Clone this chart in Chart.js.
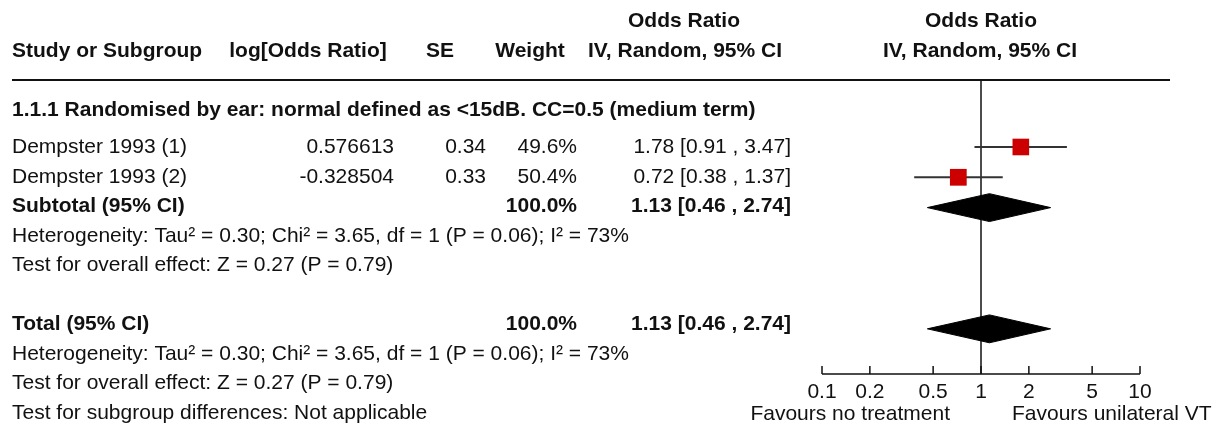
<!DOCTYPE html>
<html>
<head>
<meta charset="utf-8">
<script src="https://cdn.jsdelivr.net/npm/chart.js@4.4.1/dist/chart.umd.min.js"></script>
<style>
  body { margin: 0; background: #fff; }
</style>
</head>
<body>
<canvas id="forest" width="1223" height="430"></canvas>
<script>
// Study level data
const studyNames = ['Dempster 1993 (1)', 'Dempster 1993 (2)'];
const logOddsRatios = ['0.576613', '-0.328504'];
const seValues = ['0.34', '0.33'];
const weights = [49.6, 50.4];
const oddsRatios = [1.78, 0.72];
const ciLow = [0.91, 0.38];
const ciHigh = [3.47, 1.37];
const studyRows = [1, 2];

// Pooled estimate (subtotal and total are the same here)
const pooledLabels = ['Subtotal (95% CI)', 'Total (95% CI)'];
const pooledWeight = 100.0;
const pooledOR = 1.13;
const pooledLow = 0.46;
const pooledHigh = 2.74;
const pooledRows = [3, 7];

const subgroupTitle = '1.1.1 Randomised by ear: normal defined as <15dB. CC=0.5 (medium term)';
const heterogeneityText = 'Heterogeneity: Tau\u00b2 = 0.30; Chi\u00b2 = 3.65, df = 1 (P = 0.06); I\u00b2 = 73%';
const overallText = 'Test for overall effect: Z = 0.27 (P = 0.79)';
const subgroupDiffText = 'Test for subgroup differences: Not applicable';

// Axis
const axisTicks = [0.1, 0.2, 0.5, 1, 2, 5, 10];
const axisLabels = ['0.1', '0.2', '0.5', '1', '2', '5', '10'];
const favoursLeft = 'Favours no treatment';
const favoursRight = 'Favours unilateral VT';

const FONT = '"Liberation Sans", Arial, sans-serif';
const DIAMOND_H = 0.46; // half height of the diamonds, in rows

function fmtCI(or, lo, hi) {
    return or.toFixed(2) + ' [' + lo.toFixed(2) + ' , ' + hi.toFixed(2) + ']';
}

// datasets: squares first so they sit on top of the CI lines
const datasets = [];
datasets.push({
    type: 'scatter',
    data: oddsRatios.map((v, i) => ({ x: v, y: studyRows[i] })),
    pointStyle: 'rect',
    pointRadius: weights.map(w => 11.8 * Math.sqrt(w / 50)),
    pointBackgroundColor: '#cc0000',
    pointBorderColor: '#cc0000',
    pointBorderWidth: 0
});
studyNames.forEach((name, i) => {
    datasets.push({
        type: 'line',
        showLine: true,
        data: [{ x: ciLow[i], y: studyRows[i] }, { x: ciHigh[i], y: studyRows[i] }],
        borderColor: '#333',
        borderWidth: 2,
        pointRadius: 0
    });
});
pooledRows.forEach(r => {
    datasets.push({
        type: 'line',
        showLine: true,
        data: [
            { x: pooledLow, y: r },
            { x: pooledOR, y: r - DIAMOND_H },
            { x: pooledHigh, y: r },
            { x: pooledOR, y: r + DIAMOND_H },
            { x: pooledLow, y: r }
        ],
        borderColor: '#000',
        borderWidth: 1,
        backgroundColor: '#000',
        fill: 'shape',
        tension: 0,
        pointRadius: 0
    });
});

// Text table, reference line and axis
const forestPlugin = {
    id: 'forestPlugin',
    beforeDatasetsDraw(chart) {
        const ctx = chart.ctx;
        const area = chart.chartArea;
        const x1 = chart.scales.x.getPixelForValue(1);
        ctx.save();
        ctx.strokeStyle = '#111';
        ctx.lineWidth = 1.5;
        ctx.beginPath();
        ctx.moveTo(x1, area.top);
        ctx.lineTo(x1, area.bottom);
        ctx.stroke();
        ctx.restore();
    },
    afterDraw(chart) {
        const ctx = chart.ctx;
        const area = chart.chartArea;
        const xs = chart.scales.x;
        ctx.save();
        ctx.fillStyle = '#111';
        ctx.textBaseline = 'middle';

        function txt(s, x, y, align, bold) {
            ctx.font = (bold ? 'bold ' : '') + '21px ' + FONT;
            ctx.textAlign = align;
            ctx.fillText(s, x, y + 1.5);
        }

        // headers
        txt('Odds Ratio', 684, 20, 'center', true);
        txt('Odds Ratio', 981, 20, 'center', true);
        txt('Study or Subgroup', 12, 50, 'left', true);
        txt('log[Odds Ratio]', 308, 50, 'center', true);
        txt('SE', 440, 50, 'center', true);
        txt('Weight', 530, 50, 'center', true);
        txt('IV, Random, 95% CI', 685, 50, 'center', true);
        txt('IV, Random, 95% CI', 980, 50, 'center', true);

        // header rule
        ctx.strokeStyle = '#111';
        ctx.lineWidth = 2;
        ctx.beginPath();
        ctx.moveTo(12, area.top);
        ctx.lineTo(1170, area.top);
        ctx.stroke();

        const rowY = k => 146 + k * 29.5;
        txt(subgroupTitle, 12, 109, 'left', true);
        studyNames.forEach((name, i) => {
            const y = rowY(i);
            txt(name, 12, y, 'left', false);
            txt(logOddsRatios[i], 394, y, 'right', false);
            txt(seValues[i], 486, y, 'right', false);
            txt(weights[i].toFixed(1) + '%', 577, y, 'right', false);
            txt(fmtCI(oddsRatios[i], ciLow[i], ciHigh[i]), 791, y, 'right', false);
        });
        [2, 6].forEach((k, j) => {
            const y = rowY(k);
            txt(pooledLabels[j], 12, y, 'left', true);
            txt(pooledWeight.toFixed(1) + '%', 577, y, 'right', true);
            txt(fmtCI(pooledOR, pooledLow, pooledHigh), 791, y, 'right', true);
            txt(heterogeneityText, 12, rowY(k + 1), 'left', false);
            txt(overallText, 12, rowY(k + 2), 'left', false);
        });
        txt(subgroupDiffText, 12, rowY(9), 'left', false);

        // axis
        const ay = area.bottom;
        ctx.lineWidth = 1.5;
        ctx.beginPath();
        ctx.moveTo(xs.getPixelForValue(axisTicks[0]), ay);
        ctx.lineTo(xs.getPixelForValue(axisTicks[axisTicks.length - 1]), ay);
        axisTicks.forEach(t => {
            const px = xs.getPixelForValue(t);
            ctx.moveTo(px, ay - 8);
            ctx.lineTo(px, ay);
        });
        ctx.stroke();
        axisTicks.forEach((t, i) => {
            txt(axisLabels[i], xs.getPixelForValue(t), ay + 17, 'center', false);
        });
        const x1 = xs.getPixelForValue(1);
        txt(favoursLeft, x1 - 31, ay + 39, 'right', false);
        txt(favoursRight, x1 + 31, ay + 39, 'left', false);
        ctx.restore();
    }
};

new Chart(document.getElementById('forest'), {
    type: 'scatter',
    data: { datasets: datasets },
    options: {
        responsive: false,
        animation: false,
        layout: { padding: { left: 822, right: 83, top: 80, bottom: 56 } },
        scales: {
            x: { type: 'logarithmic', min: 0.1, max: 10, display: false },
            y: { type: 'linear', min: -1.21, max: 8.49, reverse: true, display: false }
        },
        plugins: {
            legend: { display: false },
            tooltip: { enabled: false }
        }
    },
    plugins: [forestPlugin]
});
</script>
</body>
</html>
